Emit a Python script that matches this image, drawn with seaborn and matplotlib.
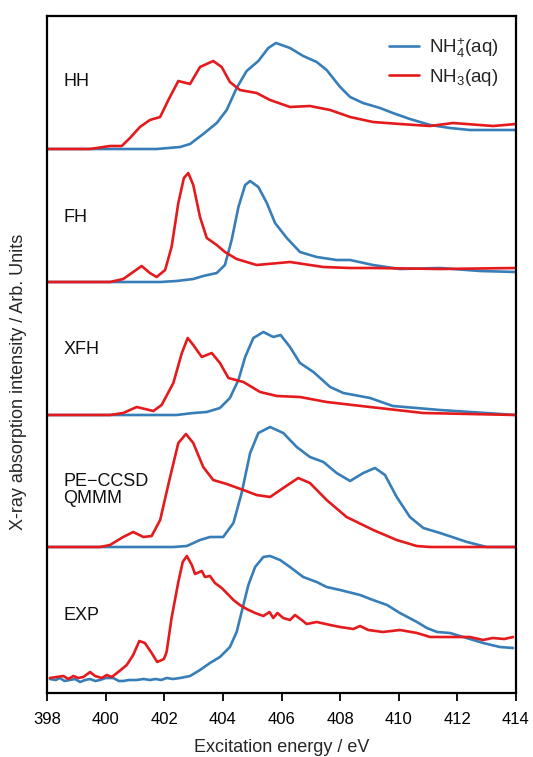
import numpy as np
import pandas as pd
import matplotlib
matplotlib.use("Agg")
import matplotlib.pyplot as plt
import seaborn as sns

# ---------------- data ----------------
panels = ["HH", "FH", "XFH", "PE\u2212CCSD\nQMMM", "EXP"]
species = ["NH$_4^{+}$(aq)", "NH$_3$(aq)"]

hh_nh4_x = [398, 401.74, 402.54, 402.88, 403.33, 403.79, 404.13, 404.47, 404.81, 405.21, 405.55, 405.81,
            406.29, 406.74, 407.2, 407.54, 408.0, 408.34, 408.78, 409.36, 409.8, 410.38, 411.07, 411.75,
            412.43, 414]
hh_nh4_y = [0, 0, 2, 5, 15, 26, 39, 61, 78, 88, 101, 106, 101, 93, 87, 79, 62, 52, 46, 41, 36, 30, 24, 21,
            19, 19]
hh_nh3_x = [398, 399.47, 400.15, 400.55, 400.83, 401.17, 401.51, 401.86, 402.14, 402.48, 402.88, 403.22,
            403.67, 403.96, 404.24, 404.58, 405.15, 405.61, 406.29, 406.97, 407.66, 408.34, 409.12, 410.04,
            411.07, 411.85, 413.22, 414]
hh_nh3_y = [0, 0, 3, 3, 11, 22, 29, 32, 49, 68, 65, 82, 88, 82, 67, 59, 56, 49, 42, 43, 39, 32, 27, 25,
            23, 26, 23, 25]

fh_nh4_x = [398, 401.86, 402.42, 402.99, 403.33, 403.79, 404.07, 404.3, 404.53, 404.76, 404.93, 405.21,
            405.5, 405.78, 406.18, 406.63, 407.2, 407.88, 408.34, 409.12, 410.04, 411.41, 412.77, 414]
fh_nh4_y = [0, 0, 1, 3, 6, 9, 17, 42, 75, 97, 101, 95, 79, 59, 44, 30, 25, 22, 22, 17, 13, 14, 11, 10]
fh_nh3_x = [398, 400.15, 400.6, 400.94, 401.23, 401.51, 401.74, 402.03, 402.25, 402.48, 402.67, 402.82,
            402.99, 403.22, 403.45, 403.79, 404.07, 404.47, 405.15, 406.29, 407.43, 408.34, 409.12, 411.41,
            414]
fh_nh3_y = [0, 0, 3, 10, 16, 9, 5, 12, 35, 79, 104, 109, 97, 65, 44, 37, 30, 23, 17, 20, 15, 14, 14, 13,
            14]

xfh_nh4_x = [398, 402.42, 402.99, 403.45, 403.9, 404.24, 404.53, 404.76, 405.04, 405.38, 405.72, 405.97,
             406.29, 406.63, 407.09, 407.66, 408.11, 409.02, 409.8, 411.41, 414]
xfh_nh4_y = [0, 0, 2, 3, 7, 17, 35, 58, 77, 83, 78, 80, 68, 52, 43, 28, 22, 17, 9, 5, 0]
xfh_nh3_x = [398, 400.15, 400.6, 401.06, 401.63, 401.91, 402.31, 402.6, 402.8, 402.99, 403.28, 403.62,
             403.9, 404.19, 404.7, 405.27, 405.84, 406.63, 407.54, 409.02, 410.83, 414]
xfh_nh3_y = [0, 0, 2, 8, 4, 10, 32, 62, 77, 70, 58, 62, 52, 37, 33, 23, 19, 18, 13, 8, 2, 0]

pe_nh4_x = [398, 402.31, 402.77, 403.22, 403.56, 404.01, 404.36, 404.64, 404.93, 405.21, 405.61, 406.06,
            406.52, 406.97, 407.43, 407.88, 408.34, 408.79, 409.19, 409.53, 409.93, 410.38, 410.84, 411.41,
            412.33, 413.0, 414]
pe_nh4_y = [0, 0, 1, 7, 10, 10, 24, 54, 94, 114, 120, 114, 100, 90, 85, 74, 66, 74, 79, 72, 50, 30, 19,
            14, 5, 0, 0]
pe_nh3_x = [398, 399.81, 400.15, 400.6, 400.94, 401.29, 401.57, 401.86, 402.2, 402.48, 402.74, 402.99,
            403.33, 403.67, 404.13, 404.7, 405.15, 405.61, 406.06, 406.57, 406.97, 407.54, 408.22, 409.13,
            409.93, 410.61, 411.07, 414]
pe_nh3_y = [0, 0, 2, 10, 15, 10, 11, 27, 70, 104, 113, 104, 80, 67, 63, 57, 52, 50, 59, 69, 64, 47, 30,
            17, 7, 1, 0, 0]

exp_nh4_x = [398.1, 398.3, 398.44, 398.6, 398.78, 398.95, 399.13, 399.3, 399.47, 399.65, 399.81, 400.0,
             400.26, 400.45, 400.6, 400.8, 401.06, 401.3, 401.51, 401.7, 401.9, 402.08, 402.3, 402.54,
             402.88, 403.22, 403.56, 403.9, 404.24, 404.47, 404.64, 404.87, 405.1, 405.38, 405.61, 405.95,
             406.29, 406.74, 407.2, 407.54, 408.0, 408.68, 409.12, 409.6, 410.04, 410.62, 410.96, 411.31,
             411.75, 412.2, 412.88, 413.45, 413.9]
exp_nh4_y = [1, 0, 2, -1, 0, 1, -2, 0, 1, -1, 0, 2, 2, -1, -1, 0, 0, 1, 0, 1, 0, 2, 1, 2, 4, 10, 17, 23,
             33, 48, 68, 95, 113, 123, 124, 120, 113, 103, 98, 93, 90, 85, 80, 75, 67, 58, 52, 48, 47, 43,
             37, 33, 32]
exp_nh3_x = [398.1, 398.56, 398.73, 398.9, 399.07, 399.24, 399.47, 399.64, 399.87, 400.04, 400.21, 400.43,
             400.72, 400.94, 401.15, 401.34, 401.57, 401.76, 401.99, 402.08, 402.25, 402.48, 402.63, 402.77,
             402.94, 403.05, 403.28, 403.39, 403.56, 403.73, 403.96, 404.13, 404.36, 404.58, 404.81, 405.1,
             405.38, 405.59, 405.72, 405.86, 406.06, 406.29, 406.46, 406.69, 406.86, 407.2, 407.66, 408.0,
             408.45, 408.68, 408.96, 409.46, 410.04, 410.62, 411.07, 411.75, 412.43, 412.88, 413.2, 413.6,
             413.9]
exp_nh3_y = [2, 4, 1, 4, 2, 3, 8, 4, 2, 5, 3, 8, 15, 25, 39, 37, 27, 18, 21, 28, 62, 98, 118, 124, 115,
             106, 109, 103, 104, 97, 92, 87, 80, 75, 71, 67, 64, 68, 62, 67, 62, 60, 65, 60, 56, 58, 55,
             53, 51, 54, 50, 48, 50, 47, 43, 43, 43, 40, 42, 41, 43]

xticks = [398, 400, 402, 404, 406, 408, 410, 412, 414]

# ---------------- layout ----------------
offsets = [544, 411, 278, 146, 13]
label_y = [611, 475, 343, 203, 78]

series = [
    (hh_nh4_x, hh_nh4_y, hh_nh3_x, hh_nh3_y),
    (fh_nh4_x, fh_nh4_y, fh_nh3_x, fh_nh3_y),
    (xfh_nh4_x, xfh_nh4_y, xfh_nh3_x, xfh_nh3_y),
    (pe_nh4_x, pe_nh4_y, pe_nh3_x, pe_nh3_y),
    (exp_nh4_x, exp_nh4_y, exp_nh3_x, exp_nh3_y),
]

rows = []
for p, (off, (x4, y4, x3, y3)) in enumerate(zip(offsets, series)):
    for xv, yv in zip(x4, y4):
        rows.append((p, species[0], xv, yv + off))
    for xv, yv in zip(x3, y3):
        rows.append((p, species[1], xv, yv + off))
df = pd.DataFrame(rows, columns=["panel", "species", "energy", "intensity"])

sns.set_style("ticks")
plt.rcParams["font.family"] = ["Liberation Sans", "DejaVu Sans"]
plt.rcParams["mathtext.fontset"] = "custom"
plt.rcParams["mathtext.rm"] = "Liberation Sans"
plt.rcParams["mathtext.it"] = "Liberation Sans:italic"
plt.rcParams["lines.solid_joinstyle"] = "round"

set1 = sns.color_palette("Set1")
palette = {species[0]: set1[1], species[1]: set1[0]}

fig = plt.figure(figsize=(5.33, 7.57), dpi=100)
ax = fig.add_axes([47 / 533, 1 - 693 / 757, 469 / 533, 677 / 757])

sns.lineplot(data=df, x="energy", y="intensity", hue="species", units="panel",
             estimator=None, sort=False, palette=palette, linewidth=1.9, ax=ax,
             hue_order=species)

ax.set_xlim(398, 414)
ax.set_ylim(0, 677)
ax.set_xticks(xticks)
ax.set_xticklabels([str(t) for t in xticks], fontsize=12)
ax.set_yticks([])
ax.tick_params(axis="x", direction="out", length=6, width=1.3, pad=8, colors="black")
for s in ax.spines.values():
    s.set_linewidth(1.6)
    s.set_color("black")

for name, ly in zip(panels, label_y):
    ax.text(398.55, ly, name, fontsize=13, va="center", ha="left", linespacing=1.05, color="#111111")

ax.set_xlabel("Excitation energy / eV", fontsize=13)
ax.xaxis.set_label_coords(0.5, -0.068)
ax.set_ylabel("X-ray absorption intensity / Arb. Units", fontsize=13)
ax.yaxis.set_label_coords(-0.043, 0.46)

handles, labels = ax.get_legend_handles_labels()
ax.legend(handles, labels, loc="upper right", frameon=False, fontsize=13.5,
          handlelength=1.6, handletextpad=0.55, labelspacing=0.35,
          bbox_to_anchor=(1.0, 0.995))

fig.savefig("out.png", dpi=100)
